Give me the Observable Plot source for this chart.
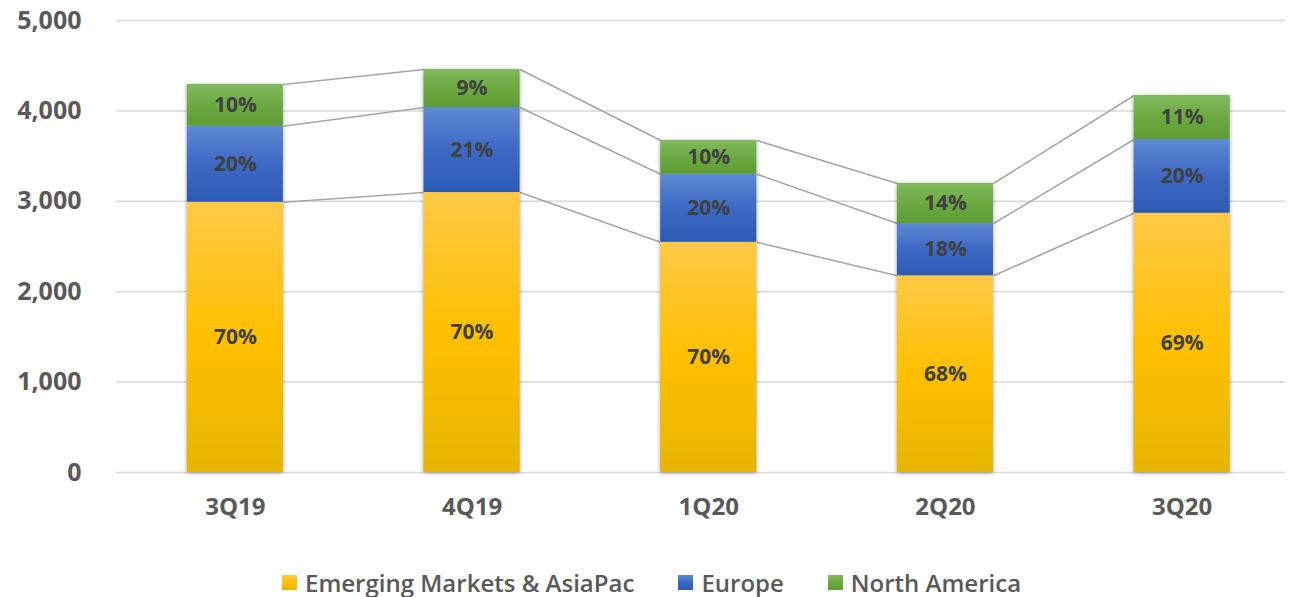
<!DOCTYPE html>
<html>
<head>
<meta charset="utf-8">
<script src="https://cdn.jsdelivr.net/npm/d3@7"></script>
<script src="https://cdn.jsdelivr.net/npm/@observablehq/plot@0.6"></script>
<style>
  html, body { margin: 0; padding: 0; background: #fff; }
  #wrap { position: relative; width: 1289px; height: 597px; font-family: "Open Sans", sans-serif; }
  #legend { position: absolute; left: 282px; top: 568px; height: 28px; display: flex; align-items: center; gap: 44px;
            font-family: "Open Sans", sans-serif; font-weight: 600; font-size: 24px; color: #595959; white-space: nowrap; }
  .item { display: flex; align-items: center; gap: 8px; }
  .sw { width: 15px; height: 15px; }
</style>
</head>
<body>
<div id="wrap"><div id="chart"></div><div id="legend"></div></div>
<script>
const categories = ["3Q19", "4Q19", "1Q20", "2Q20", "3Q20"];
const seriesNames = ["Emerging Markets & AsiaPac", "Europe", "North America"];
const emerging = [2990, 3097, 2547, 2176, 2868];
const europe = [841, 941, 753, 578, 816];
const northAmerica = [461, 420, 373, 443, 486];
const pctEmerging = [70, 70, 70, 68, 69];
const pctEurope = [20, 21, 20, 18, 20];
const pctNorthAmerica = [10, 9, 10, 14, 11];
const yTicks = [0, 1000, 2000, 3000, 4000, 5000];

const gradients = [
  {id: "gEM", stops: ["#FFC947", "#FFC000", "#E6B500"]},
  {id: "gEU", stops: ["#5E89D3", "#3D69C4", "#2C5BB5"]},
  {id: "gNA", stops: ["#80BA5E", "#6CAA41", "#5C9D34"]}
];

const valuesBySeries = [emerging, europe, northAmerica];
const pctBySeries = [pctEmerging, pctEurope, pctNorthAmerica];

const rows = [];
const tops = seriesNames.map(() => []);
categories.forEach((c, i) => {
  let acc = 0;
  seriesNames.forEach((s, k) => {
    const v = valuesBySeries[k][i];
    rows.push({i, category: c, series: s, y1: acc, y2: acc + v, pct: pctBySeries[k][i]});
    acc += v;
    tops[k].push(acc);
  });
});

const hw = 0.203; // half bar width in band units
const links = [];
seriesNames.forEach((s, k) => {
  for (let i = 0; i < categories.length - 1; i++) {
    links.push({x1: i + hw, x2: i + 1 - hw, y1: tops[k][i], y2: tops[k][i + 1]});
  }
});

const fmt = d3.format(",");

const chart = Plot.plot({
  width: 1289,
  height: 550,
  marginLeft: 116,
  marginRight: 4,
  marginTop: 20,
  marginBottom: 78,
  style: {fontFamily: "Open Sans, sans-serif", background: "#fff"},
  x: {domain: [-0.5, categories.length - 0.5], range: [116.5, 1300], axis: null},
  y: {domain: [0, 5000], axis: null},
  color: {domain: seriesNames, range: gradients.map(g => `url(#${g.id})`)},
  marks: [
    Plot.gridY(yTicks, {stroke: "#D9D9D9", strokeOpacity: 1, strokeWidth: 1.5}),
    Plot.axisY({ticks: yTicks, tickFormat: d => fmt(d), tickSize: 0, tickPadding: 35, fontSize: 25, fontWeight: "bold", color: "#595959"}),
    Plot.axisX({ticks: categories.map((_, i) => i), tickFormat: i => categories[i], tickSize: 0, tickPadding: 25, fontSize: 24, fontWeight: "bold", color: "#595959"}),
    Plot.link(links, {x1: "x1", x2: "x2", y1: "y1", y2: "y2", stroke: "#A6A6A6", strokeWidth: 1.6}),
    Plot.rect(rows, {x1: d => d.i - hw, x2: d => d.i + hw, y1: "y1", y2: "y2", fill: "series"}),
    Plot.text(rows, {x: "i", y: d => (d.y1 + d.y2) / 2, text: d => d.pct + "%", fontSize: 21, fontWeight: "bold", fill: "#404040"})
  ]
});

const svg = d3.select(chart);
const defs = svg.insert("defs", ":first-child");
gradients.forEach(g => {
  const lg = defs.append("linearGradient").attr("id", g.id).attr("x1", 0).attr("y1", 0).attr("x2", 0).attr("y2", 1);
  g.stops.forEach((c, j) => lg.append("stop").attr("offset", j / (g.stops.length - 1)).attr("stop-color", c));
});
svg.select('g[aria-label="rect"]').style("filter", "drop-shadow(0px 1px 2px rgba(0,0,0,0.35))");
document.getElementById("chart").appendChild(chart);

const legend = d3.select("#legend");
seriesNames.forEach((s, k) => {
  const it = legend.append("div").attr("class", "item");
  it.append("div").attr("class", "sw").style("background", `linear-gradient(${gradients[k].stops.join(",")})`);
  it.append("span").text(s);
});
</script>
</body>
</html>
